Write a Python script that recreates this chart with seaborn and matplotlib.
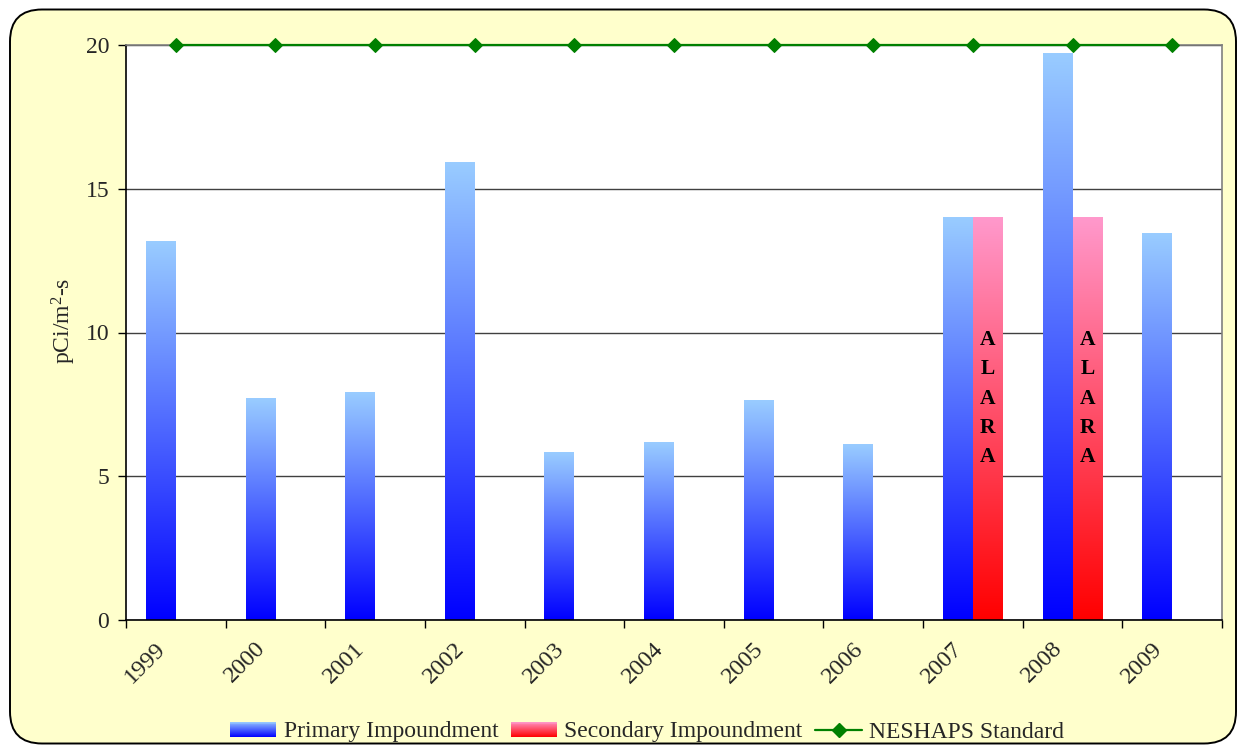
import numpy as np
import pandas as pd
import matplotlib
matplotlib.use("Agg")
import matplotlib.pyplot as plt
import matplotlib.transforms as mtransforms
import seaborn as sns
from matplotlib.patches import FancyBboxPatch, Rectangle
from matplotlib.lines import Line2D
from matplotlib.legend_handler import HandlerBase
from matplotlib.colors import LinearSegmentedColormap

# ---- data -------------------------------------------------------------
years = ["1999", "2000", "2001", "2002", "2003", "2004",
         "2005", "2006", "2007", "2008", "2009"]
primary = [13.18, 7.72, 7.90, 15.93, 5.84, 6.19, 7.62, 6.12, 14.0, 19.69, 13.43]
secondary = [None, None, None, None, None, None, None, None, 14.0, 14.0, None]
neshaps = [20, 20, 20, 20, 20, 20, 20, 20, 20, 20, 20]
series_names = ["Primary Impoundment", "Secondary Impoundment"]
standard_name = "NESHAPS Standard"
alara_label = "ALARA"
y_label = "pCi/m$^{2}$-s"
y_ticks = [0, 5, 10, 15, 20]

# ---- styling ----------------------------------------------------------
sns.set_theme(style="white")
plt.rcParams["font.family"] = ["Liberation Serif", "DejaVu Serif"]
plt.rcParams["mathtext.default"] = "regular"

blue_map = LinearSegmentedColormap.from_list("blue_fade", ["#0000ff", "#99ccff"])
red_map = LinearSegmentedColormap.from_list("red_fade", ["#ff0000", "#ff99cc"])
green = "#008000"

fig = plt.figure(figsize=(12.38, 7.46), dpi=100)
fig.patch.set_facecolor("white")

# rounded chart-area frame
frame = FancyBboxPatch((0.10, 0.025), 12.26, 7.34,
                       boxstyle="round,pad=0,rounding_size=0.32",
                       transform=fig.dpi_scale_trans,
                       facecolor="#ffffcc", edgecolor="black", linewidth=1.4,
                       zorder=-10)
fig.add_artist(frame)

ax = fig.add_axes([126 / 1238, 1 - 620 / 746, 1096 / 1238, 575 / 746])
ax.set_facecolor("white")

# ---- bars ---------------------------------------------------------------
rows = []
for yr, p, s in zip(years, primary, secondary):
    rows.append({"year": yr, "value": p, "series": series_names[0]})
    if s is not None:
        rows.append({"year": yr, "value": s, "series": series_names[1]})
df = pd.DataFrame(rows)

sns.barplot(data=df, x="year", y="value", hue="series", order=years,
            hue_order=series_names, width=0.6, palette=["#0000ff", "#ff0000"],
            saturation=1, legend=False, errorbar=None, ax=ax)

# paint each bar with a vertical colour fade
grad = np.linspace(0, 1, 256).reshape(-1, 1)
for container, cmap in zip(ax.containers, [blue_map, red_map]):
    for bar in container:
        h = bar.get_height()
        if not np.isfinite(h) or h <= 0:
            continue
        x0, w = bar.get_x(), bar.get_width()
        ax.imshow(grad, extent=[x0, x0 + w, 0, h], origin="lower",
                  aspect="auto", cmap=cmap, interpolation="bilinear", zorder=2)
        bar.set_visible(False)

# ---- standard line -----------------------------------------------------
positions = np.arange(len(years))
sns.lineplot(x=positions, y=neshaps, color=green, marker="D", markersize=7,
             markeredgecolor=green, linewidth=1.6, ax=ax, zorder=4,
             clip_on=False)

# vertical ALARA notes on the secondary bars
for i, s in enumerate(secondary):
    if s is not None:
        ax.text(i + 0.15, 7.7, "\n".join(alara_label), ha="center",
                va="center", fontsize=15.5, fontweight="bold", linespacing=1.62,
                color="black", zorder=5)

# ---- axes ---------------------------------------------------------------
ax.set_xlim(-0.5, len(years) - 0.5)
ax.set_ylim(0, 20)
ax.set_yticks(y_ticks)
ax.set_xticks(positions)
ax.set_xticklabels(years, rotation=45, ha="right", fontsize=17.5)
ax.set_xticks(np.arange(len(years) + 1) - 0.5, minor=True)
ax.tick_params(axis="x", which="major", length=0, pad=13)
ax.tick_params(axis="x", which="minor", length=6, width=1, color="black",
               direction="out", bottom=True)
ax.tick_params(axis="y", labelsize=17, length=6, width=1, color="black",
               direction="out", left=True, pad=6)
shift = mtransforms.ScaledTranslation(-0.06, 0, fig.dpi_scale_trans)
for lbl in ax.get_xticklabels():
    lbl.set_transform(lbl.get_transform() + shift)

ax.set_xlabel("")
ax.set_ylabel(y_label, fontsize=17)
ax.yaxis.set_label_coords(-0.044, 0.52)

ax.yaxis.grid(True, color="#404040", linewidth=1)
ax.xaxis.grid(False)
ax.set_axisbelow(True)

for side in ["left", "bottom"]:
    ax.spines[side].set_color("black")
    ax.spines[side].set_linewidth(1.2)
for side in ["top", "right"]:
    ax.spines[side].set_color("#808080")
    ax.spines[side].set_linewidth(1.2)


# ---- legend -----------------------------------------------------------
class GradientHandler(HandlerBase):
    def __init__(self, cmap, steps=16):
        super().__init__()
        self.cmap = cmap
        self.steps = steps

    def create_artists(self, legend, orig_handle, xdescent, ydescent,
                       width, height, fontsize, trans):
        arts = []
        step = height / self.steps
        for k in range(self.steps):
            frac = (k + 0.5) / self.steps
            arts.append(Rectangle((-xdescent, -ydescent + k * step), width,
                                  step * 1.08, facecolor=self.cmap(frac),
                                  edgecolor="none", linewidth=0,
                                  transform=trans))
        return arts


h_primary = Rectangle((0, 0), 1, 1)
h_secondary = Rectangle((0, 0), 1, 1)
h_standard = Line2D([], [], color=green, marker="D", markersize=7,
                    linewidth=1.6)
fig.legend([h_primary, h_secondary, h_standard],
           [series_names[0], series_names[1], standard_name],
           handler_map={h_primary: GradientHandler(blue_map),
                        h_secondary: GradientHandler(red_map)},
           loc="center", bbox_to_anchor=(647 / 1238, 1 - 732 / 746),
           ncol=3, frameon=False, fontsize=17, handlelength=1.95,
           handleheight=0.6, handletextpad=0.3, columnspacing=0.55)

fig.savefig("out.png", dpi=100, facecolor=fig.get_facecolor())
